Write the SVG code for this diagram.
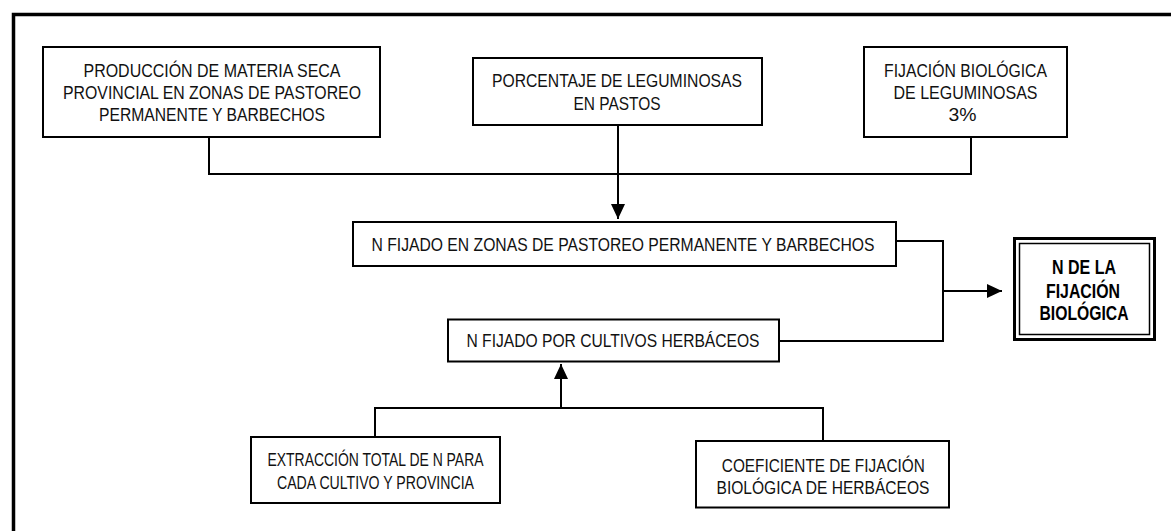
<svg xmlns="http://www.w3.org/2000/svg" width="1171" height="531" viewBox="0 0 1171 531">
<style>
.box{fill:#fff;stroke:#000;stroke-width:2}
.t{font-family:"Liberation Sans Narrow","Liberation Sans",Arial,sans-serif;font-size:19px;fill:#111;text-anchor:middle}
.b{font-weight:bold;fill:#000;font-size:19.5px}
.c{fill:none;stroke:#000;stroke-width:2}
</style>
<defs>
<marker id="ah" markerUnits="userSpaceOnUse" markerWidth="16" markerHeight="16" viewBox="0 0 16 16" refX="15" refY="8" orient="auto">
<path d="M0,1 L15,8 L0,15 Z" fill="#000"/>
</marker>
</defs>
<rect width="1171" height="531" fill="#fff"/>
<path d="M13.5,531 V14.5 H1171" fill="none" stroke="#000" stroke-width="3.5"/>
<g id="connectors">
<path class="c" d="M209,137 V174 H971 V137"/>
<path class="c" d="M618,126 V219" marker-end="url(#ah)"/>
<path class="c" d="M896,241 H943 V341 H779"/>
<path class="c" d="M943,291 H1002" marker-end="url(#ah)"/>
<path class="c" d="M375,437 V408 H823 V441"/>
<path class="c" d="M561,408 V364" marker-end="url(#ah)"/>
</g>
<g id="n1">
<rect class="box" x="43" y="47" width="337" height="90"/>
<text class="t" x="212" y="76.5" textLength="257" lengthAdjust="spacingAndGlyphs">PRODUCCIÓN DE MATERIA SECA</text>
<text class="t" x="212" y="98.5" textLength="298" lengthAdjust="spacingAndGlyphs">PROVINCIAL EN ZONAS DE PASTOREO</text>
<text class="t" x="212" y="120.5" textLength="226" lengthAdjust="spacingAndGlyphs">PERMANENTE Y BARBECHOS</text>
</g>
<g id="n2">
<rect class="box" x="473" y="58" width="289" height="67"/>
<text class="t" x="617" y="87" textLength="250" lengthAdjust="spacingAndGlyphs">PORCENTAJE DE LEGUMINOSAS</text>
<text class="t" x="617" y="110" textLength="87" lengthAdjust="spacingAndGlyphs">EN PASTOS</text>
</g>
<g id="n3">
<rect class="box" x="864" y="47" width="203" height="90"/>
<text class="t" x="965.5" y="76.5" textLength="163" lengthAdjust="spacingAndGlyphs">FIJACIÓN BIOLÓGICA</text>
<text class="t" x="965.5" y="98.5" textLength="144" lengthAdjust="spacingAndGlyphs">DE LEGUMINOSAS</text>
<text class="t" x="962.5" y="120.5" textLength="28" lengthAdjust="spacingAndGlyphs">3%</text>
</g>
<g id="n4">
<rect class="box" x="353" y="222" width="543" height="44"/>
<text class="t" x="623" y="250.5" textLength="503" lengthAdjust="spacingAndGlyphs">N FIJADO EN ZONAS DE PASTOREO PERMANENTE Y BARBECHOS</text>
</g>
<g id="n5">
<rect class="box" x="448" y="319.5" width="331" height="42"/>
<text class="t" x="613" y="346.5" textLength="293" lengthAdjust="spacingAndGlyphs">N FIJADO POR CULTIVOS HERBÁCEOS</text>
</g>
<g id="n6">
<rect x="1014.5" y="238.5" width="140" height="101" fill="#fff" stroke="#000" stroke-width="3"/>
<rect x="1019.5" y="243.5" width="130" height="91" fill="none" stroke="#000" stroke-width="1.5"/>
<text class="t b" x="1084" y="274" textLength="64" lengthAdjust="spacingAndGlyphs">N DE LA</text>
<text class="t b" x="1083" y="297.5" textLength="74" lengthAdjust="spacingAndGlyphs">FIJACIÓN</text>
<text class="t b" x="1084" y="320" textLength="89" lengthAdjust="spacingAndGlyphs">BIOLÓGICA</text>
</g>
<g id="n7">
<rect class="box" x="251" y="437" width="249" height="66"/>
<text class="t" x="375.5" y="466" textLength="216" lengthAdjust="spacingAndGlyphs">EXTRACCIÓN TOTAL DE N PARA</text>
<text class="t" x="375.5" y="488.5" textLength="197" lengthAdjust="spacingAndGlyphs">CADA CULTIVO Y PROVINCIA</text>
</g>
<g id="n8">
<rect class="box" x="696" y="441" width="253" height="66.5"/>
<text class="t" x="823.3" y="471.5" textLength="203" lengthAdjust="spacingAndGlyphs">COEFICIENTE DE FIJACIÓN</text>
<text class="t" x="823" y="493.5" textLength="213" lengthAdjust="spacingAndGlyphs">BIOLÓGICA DE HERBÁCEOS</text>
</g>
</svg>
